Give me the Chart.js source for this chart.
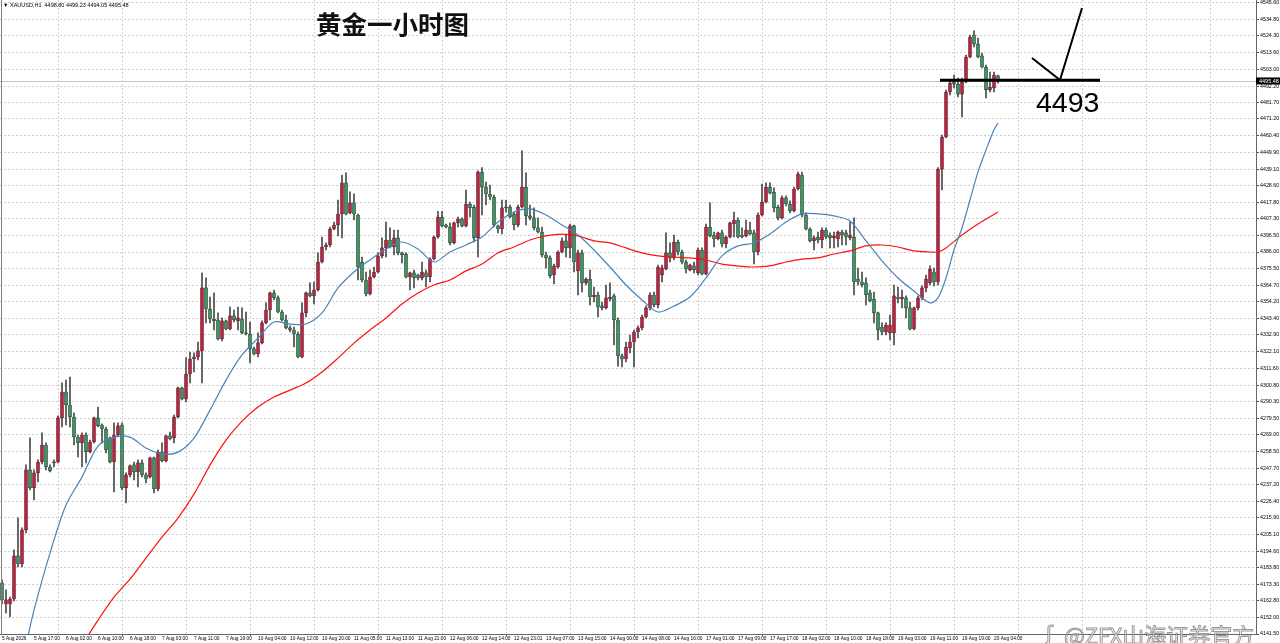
<!DOCTYPE html>
<html><head><meta charset="utf-8">
<script src="https://cdn.jsdelivr.net/npm/chart.js@4.4.1/dist/chart.umd.min.js"></script>
<style>html,body{margin:0;padding:0;background:#fff;overflow:hidden}canvas{display:block}</style>
</head><body>
<canvas id="c" width="1280" height="643"></canvas>
<script>
const symbolInfo = "\u25BC XAUUSD,H1  4498.80 4499.23 4494.05 4495.48";
const chartTitle = "黄金一小时图";
const markText = "4493";
const watermark = "@ZFX山海证券官方";
const lastPrice = 4495.48;
const markLevel = 4496;

const timeLabels = ["5 Aug 2026","5 Aug 17:00","6 Aug 02:00","6 Aug 10:00","6 Aug 18:00","7 Aug 03:00","7 Aug 11:00","7 Aug 19:00","10 Aug 04:00","10 Aug 12:00","10 Aug 20:00","11 Aug 05:00","11 Aug 13:00","11 Aug 21:00","12 Aug 06:00","12 Aug 14:00","12 Aug 23:01","13 Aug 07:00","13 Aug 15:00","14 Aug 00:00","14 Aug 08:00","14 Aug 16:00","17 Aug 01:00","17 Aug 09:00","17 Aug 17:00","18 Aug 02:00","18 Aug 10:00","18 Aug 18:00","19 Aug 03:00","19 Aug 11:00","19 Aug 19:00","20 Aug 04:00"];

const priceTicks = [4545.60,4534.80,4524.30,4513.60,4503.00,4492.20,4481.70,4471.20,4460.40,4449.90,4439.10,4428.60,4417.80,4407.30,4396.50,4386.00,4375.50,4364.70,4354.20,4343.40,4332.90,4322.10,4311.60,4300.80,4290.30,4279.50,4269.00,4258.50,4247.70,4237.20,4226.40,4215.90,4205.10,4194.60,4183.80,4173.30,4162.80,4152.00,4141.50];

const open = [4174.2,4160.7,4160.7,4163.9,4191.5,4186.3,4208.1,4246.5,4235.0,4244.6,4251.6,4262.5,4248.4,4251.0,4251.6,4279.8,4296.4,4288.1,4280.4,4267.6,
4263.8,4268.9,4258.0,4264.4,4279.8,4275.3,4272.7,4267.0,4251.6,4268.9,4275.3,4235.0,4243.3,4249.7,4245.2,4251.0,4243.3,4242.0,4254.2,4234.3,
4258.0,4252.3,4268.3,4267.0,4280.4,4299.0,4291.9,4307.9,4317.5,4318.8,4322.7,4363.0,4349.5,4343.1,4342.5,4330.3,4341.9,4336.7,4345.1,4341.9,
4343.1,4334.2,4333.5,4324.0,4320.7,4327.8,4340.6,4348.9,4359.8,4356.6,4347.6,4342.5,4337.4,4336.1,4333.5,4318.8,4347.0,4359.8,4357.9,4361.7,
4379.6,4389.2,4390.5,4400.7,4403.3,4410.3,4430.2,4411.0,4417.4,4409.7,4379.6,4368.1,4359.1,4370.0,4373.2,4383.5,4388.6,4393.7,4389.2,4395.0,
4385.4,4384.7,4370.0,4372.6,4371.3,4369.4,4372.6,4370.0,4381.5,4395.6,4408.3,4403.3,4402.0,4391.8,4404.6,4407.1,4402.7,4416.7,4414.8,4395.0,
4437.2,4427.5,4423.1,4421.2,4402.7,4400.7,4414.2,4414.8,4410.3,4403.3,4414.8,4427.5,4409.1,4407.8,4401.4,4398.8,4384.1,4382.2,4371.3,4376.4,
4386.0,4393.1,4388.6,4402.7,4373.9,4385.4,4366.2,4368.7,4357.2,4358.5,4351.5,4350.2,4355.9,4357.9,4342.5,4319.5,4317.5,4324.6,4328.4,4334.8,
4337.4,4344.4,4350.2,4358.5,4352.1,4371.3,4375.1,4385.4,4382.2,4392.4,4386.0,4379.6,4374.5,4377.1,4372.6,4387.3,4371.9,4402.0,4396.9,4394.3,
4398.2,4391.1,4395.6,4403.9,4406.5,4396.9,4396.3,4400.1,4398.2,4386.0,4409.7,4418.0,4427.5,4424.4,4414.8,4407.8,4420.6,4416.7,4412.3,4426.3,
4435.3,4409.7,4400.7,4393.1,4395.6,4393.7,4400.1,4396.9,4395.0,4394.3,4398.8,4398.2,4395.0,4395.6,4368.7,4366.8,4366.2,4359.8,4355.9,4347.0,
4338.0,4334.8,4334.2,4334.2,4357.2,4355.9,4356.6,4350.2,4336.7,4350.2,4356.6,4363.0,4366.2,4373.2,4366.8,4439.1,4459.6,4488.4,4494.8,4493.5,
4487.1,4494.8,4510.8,4524.9,4519.1,4511.5,4504.4,4489.7,4491.0,4498.80];

const high = [4176.1,4169.7,4165.2,4195.3,4215.8,4209.4,4249.7,4267.0,4246.5,4252.9,4270.2,4263.8,4249.7,4252.9,4281.1,4302.2,4304.1,4306.0,4283.0,4268.9,
4270.2,4270.2,4265.7,4280.4,4286.8,4276.0,4274.0,4267.6,4276.6,4276.6,4276.6,4244.6,4249.7,4251.6,4252.9,4252.9,4244.6,4254.8,4254.8,4259.3,
4263.8,4268.9,4270.8,4281.7,4299.6,4299.6,4318.2,4322.0,4321.4,4328.4,4372.6,4369.4,4357.2,4359.8,4347.0,4343.8,4342.5,4350.8,4348.9,4350.8,
4350.2,4347.6,4341.2,4325.2,4334.2,4341.9,4353.4,4360.4,4361.7,4357.9,4348.9,4345.7,4338.7,4338.0,4334.8,4353.4,4360.4,4366.2,4366.8,4385.4,
4395.6,4391.8,4402.0,4405.2,4419.3,4435.3,4436.6,4424.5,4423.2,4410.3,4382.8,4373.2,4374.5,4376.4,4385.4,4395.0,4405.2,4401.4,4400.1,4400.1,
4386.0,4385.4,4373.2,4374.5,4371.9,4379.6,4374.5,4382.2,4396.2,4412.1,4412.1,4403.9,4404.6,4405.2,4408.4,4407.8,4425.7,4418.0,4416.1,4437.9,
4440.1,4430.8,4428.9,4422.5,4403.3,4419.3,4419.3,4416.1,4411.6,4416.1,4450.7,4436.6,4416.1,4414.2,4407.8,4402.0,4386.0,4383.5,4378.3,4386.7,
4395.0,4396.9,4403.9,4403.3,4387.3,4387.3,4369.4,4374.5,4363.6,4360.4,4354.0,4364.9,4366.2,4359.1,4343.8,4320.7,4328.4,4332.9,4336.1,4338.7,
4345.7,4351.5,4359.8,4360.4,4377.7,4377.7,4398.2,4391.8,4396.9,4393.7,4387.3,4380.9,4378.3,4379.6,4388.6,4388.6,4403.9,4417.4,4398.8,4398.8,
4400.1,4396.3,4405.2,4411.6,4407.8,4401.4,4406.5,4405.2,4400.1,4411.0,4429.5,4430.2,4430.2,4427.0,4416.1,4421.9,4421.9,4418.7,4427.6,4437.2,
4437.2,4411.0,4401.4,4396.3,4398.8,4401.4,4401.4,4398.2,4398.8,4399.5,4400.1,4400.1,4405.2,4407.8,4375.7,4373.2,4369.4,4361.7,4360.4,4347.6,
4340.6,4340.6,4345.7,4364.9,4363.6,4361.7,4357.9,4354.0,4350.8,4357.9,4364.3,4371.3,4377.1,4375.7,4440.1,4460.9,4489.7,4496.1,4499.3,4497.4,
4497.4,4512.1,4524.9,4527.5,4523.0,4513.4,4505.7,4501.2,4501.2,4499.23];

const low = [4160.7,4155.0,4152.4,4162.7,4184.4,4184.4,4206.2,4233.7,4227.3,4238.8,4250.3,4246.5,4245.2,4248.4,4251.0,4274.0,4275.3,4274.0,4262.5,4254.8,
4248.4,4251.0,4257.4,4263.8,4274.0,4263.8,4257.4,4251.0,4232.4,4267.6,4233.7,4225.4,4242.0,4240.1,4235.6,4242.0,4238.2,4241.4,4231.8,4233.1,
4251.6,4251.6,4265.7,4263.8,4279.8,4291.3,4290.0,4302.2,4309.2,4316.9,4302.2,4340.6,4340.6,4336.1,4329.7,4329.1,4336.1,4336.1,4341.2,4336.1,
4333.5,4332.9,4315.0,4320.1,4318.8,4327.1,4339.9,4342.5,4355.3,4347.0,4341.9,4336.7,4334.8,4325.2,4318.2,4318.2,4344.4,4357.2,4352.7,4361.1,
4379.0,4387.3,4389.2,4400.1,4396.3,4395.0,4409.7,4410.3,4406.5,4368.1,4366.8,4357.9,4358.5,4369.4,4372.6,4382.2,4382.8,4388.6,4384.1,4384.1,
4379.0,4369.4,4361.7,4363.0,4368.1,4368.1,4363.6,4366.8,4380.9,4394.9,4402.0,4401.4,4390.5,4391.1,4402.0,4402.0,4402.0,4408.4,4392.4,4382.8,
4409.7,4416.1,4419.3,4402.0,4398.2,4397.5,4411.6,4407.8,4400.1,4402.0,4414.2,4403.3,4406.5,4400.1,4398.2,4382.8,4375.7,4369.4,4365.5,4375.7,
4385.4,4382.8,4382.2,4373.2,4358.5,4360.4,4364.9,4352.1,4354.0,4344.4,4348.9,4349.5,4354.7,4326.5,4312.9,4312.4,4315.6,4321.4,4312.4,4331.0,
4336.1,4343.8,4348.9,4350.8,4350.2,4366.8,4374.5,4379.6,4380.9,4384.1,4378.3,4372.6,4373.9,4372.6,4371.3,4371.3,4371.3,4395.6,4389.2,4393.7,
4389.2,4388.6,4395.0,4395.6,4395.0,4395.0,4395.6,4396.9,4378.3,4384.1,4409.1,4417.4,4423.1,4411.6,4406.5,4407.1,4415.5,4411.0,4411.6,4425.7,
4408.4,4400.1,4392.4,4387.3,4391.8,4388.6,4394.3,4388.6,4388.6,4389.2,4390.5,4390.5,4393.7,4358.5,4364.9,4363.6,4352.1,4354.0,4340.6,4329.7,
4332.9,4332.9,4329.7,4326.5,4353.4,4350.2,4343.8,4336.1,4336.1,4348.9,4355.3,4360.4,4364.9,4364.3,4364.9,4425.7,4459.0,4486.5,4491.0,4485.2,
4472.4,4494.2,4510.2,4517.2,4510.2,4503.8,4484.6,4488.4,4488.4,4494.05];

const close = [4163.3,4163.3,4163.9,4191.5,4186.3,4208.1,4246.5,4235.0,4244.6,4251.6,4262.5,4248.4,4245.9,4251.6,4279.8,4296.4,4288.1,4280.4,4267.6,4263.8,
4268.9,4258.0,4264.4,4279.8,4274.7,4272.7,4259.3,4251.6,4268.9,4274.7,4235.0,4243.3,4249.1,4245.2,4251.0,4243.3,4240.7,4254.2,4234.3,4258.0,
4252.3,4268.3,4266.3,4280.4,4299.0,4291.9,4307.9,4317.5,4318.8,4322.7,4363.0,4349.5,4343.1,4341.9,4330.3,4341.9,4336.7,4345.1,4342.5,4343.8,
4334.2,4333.5,4324.0,4320.7,4327.8,4340.6,4348.9,4359.8,4356.6,4347.6,4342.5,4337.4,4336.1,4333.5,4318.8,4347.0,4359.8,4357.9,4361.7,4379.6,
4389.2,4390.5,4400.7,4403.3,4410.3,4430.2,4410.3,4417.4,4410.3,4376.4,4368.1,4359.1,4370.0,4373.2,4383.5,4388.6,4393.7,4389.2,4395.0,4385.4,
4384.1,4370.0,4372.6,4369.4,4369.4,4373.2,4370.0,4381.5,4395.6,4408.3,4402.7,4402.0,4391.8,4404.6,4407.1,4402.7,4416.7,4414.2,4395.0,4437.2,
4427.5,4423.1,4421.2,4403.3,4400.7,4414.2,4414.8,4408.4,4403.3,4414.8,4427.5,4409.1,4407.8,4401.4,4398.8,4384.1,4382.2,4370.7,4377.1,4386.0,
4393.1,4388.6,4402.7,4379.6,4385.4,4366.2,4368.7,4357.2,4358.5,4350.8,4350.2,4356.6,4357.2,4342.5,4319.5,4317.5,4325.2,4328.4,4334.8,4337.4,
4344.4,4350.2,4358.5,4352.1,4376.4,4375.8,4385.4,4382.2,4392.4,4386.0,4379.6,4375.1,4377.7,4374.5,4387.3,4371.9,4402.0,4396.3,4394.3,4398.2,
4391.1,4395.6,4404.6,4406.5,4395.6,4395.6,4400.1,4397.5,4386.0,4409.7,4418.0,4427.5,4423.7,4414.2,4407.8,4420.6,4416.7,4412.3,4426.3,4435.9,
4409.7,4400.7,4393.1,4395.0,4393.7,4400.1,4395.6,4395.0,4396.3,4398.8,4396.9,4395.6,4396.9,4366.8,4366.8,4364.9,4358.5,4354.7,4347.0,4336.1,
4334.8,4339.3,4339.3,4357.9,4355.9,4357.2,4350.2,4336.7,4350.2,4356.6,4363.0,4368.7,4375.1,4366.8,4439.1,4459.6,4488.4,4494.2,4493.5,4487.1,
4494.8,4510.8,4523.6,4519.1,4510.8,4504.4,4489.7,4491.6,4499.3,4495.48];

// moving averages (bar index, value)
const maFastIdx = [6,8,12,16,20,24,28,32,36,40,44,48,52,56,60,64,68,72,76,80,84,88,92,96,100,104,108,112,116,120,124,128,132,136,140,144,148,152,156,160,164,168,172,176,180,184,188,192,196,200,204,208,212,216,220,224,228,232,234,236,238,240,242,244,246,248,249];
const maFastVal = [4134.3,4156.8,4193.3,4224.0,4241.9,4261.8,4267.5,4267.5,4260.5,4256.7,4257.9,4266.9,4284.8,4304.0,4320.1,4330.9,4341.2,4339.9,4339.9,4347.0,4363.0,4373.2,4380.9,4387.9,4392.4,4387.9,4379.6,4386.0,4390.5,4395.6,4405.2,4411.6,4413.6,4409.7,4403.3,4396.9,4387.3,4376.4,4364.9,4355.3,4347.6,4351.4,4357.2,4369.4,4383.5,4389.9,4391.8,4397.5,4405.2,4410.4,4410.4,4409.1,4405.9,4393.1,4380.3,4369.4,4361.0,4353.4,4356.6,4369.4,4387.3,4401.4,4419.3,4437.3,4451.3,4464.2,4468.6];
const maSlowIdx = [20,24,28,32,36,40,44,48,52,56,60,64,68,72,76,80,84,88,92,96,100,104,108,112,116,120,124,128,132,136,140,144,148,152,156,160,164,168,172,176,180,184,188,192,196,200,204,208,212,216,220,224,228,232,234,236,240,244,249];
const maSlowVal = [4134.3,4150.4,4165.1,4176.6,4190.1,4203.5,4215.7,4231.0,4249.6,4265.6,4277.8,4286.8,4293.2,4297.6,4302.1,4309.2,4318.1,4327.7,4336.1,4343.8,4352.7,4359.8,4364.9,4368.1,4373.9,4378.3,4385.4,4389.2,4393.7,4396.3,4397.5,4396.3,4393.1,4391.8,4388.6,4385.4,4383.5,4382.8,4382.2,4380.9,4378.3,4377.1,4376.4,4377.1,4379.6,4381.5,4382.2,4384.7,4386.7,4389.9,4390.5,4389.2,4386.7,4386.0,4386.0,4388.6,4396.9,4404.0,4411.6];

const SLOTS = 314;
const N = open.length;
const labels = Array.from({length: SLOTS}, (_, i) => i);
const bodies = open.map((o, i) => [Math.min(o, close[i]), Math.max(o, close[i])]);
const wicks = low.map((l, i) => [l, high[i]]);
const UP = '#d9163c', DOWN = '#2f9e5c';
const bodyColors = open.map((o, i) => close[i] >= o ? UP : DOWN);
const maFast = new Array(N).fill(null);
maFastIdx.forEach((ix, k) => { maFast[ix] = maFastVal[k]; });
const maSlow = new Array(N).fill(null);
maSlowIdx.forEach((ix, k) => { maSlow[ix] = maSlowVal[k]; });

const overlay = {
  id: 'overlay',
  beforeDatasetsDraw(chart) {
    const {ctx, chartArea: a, scales: {y}} = chart;
    const py = Math.round(y.getPixelForValue(lastPrice)) + 0.5;
    ctx.save();
    ctx.strokeStyle = '#c4c4c4'; ctx.lineWidth = 1;
    ctx.beginPath(); ctx.moveTo(a.left, py); ctx.lineTo(a.right, py); ctx.stroke();
    ctx.restore();
  },
  afterDraw(chart) {
    const {ctx, chartArea: a, scales: {x, y}} = chart;
    ctx.save();
    // left frame line
    ctx.strokeStyle = '#808080'; ctx.lineWidth = 1;
    ctx.beginPath(); ctx.moveTo(1.5, a.top); ctx.lineTo(1.5, a.bottom); ctx.stroke();
    // header
    ctx.fillStyle = '#000'; ctx.font = '5.5px "Liberation Sans", Arial, sans-serif';
    ctx.textBaseline = 'top'; ctx.textAlign = 'left';
    ctx.fillText(symbolInfo, 3, 3);
    // current price label
    const py = y.getPixelForValue(lastPrice);
    ctx.fillStyle = '#000';
    ctx.fillRect(a.right, py - 3.5, 1280 - a.right, 7);
    ctx.fillStyle = '#fff'; ctx.textBaseline = 'middle';
    ctx.fillText(lastPrice.toFixed(2), a.right + 3, py + 0.3);
    // title
    ctx.fillStyle = '#111';
    ctx.font = 'bold 25.5px "Noto Sans CJK SC", sans-serif';
    ctx.textAlign = 'left'; ctx.textBaseline = 'middle';
    ctx.fillText(chartTitle, 316, 24);
    // hand-drawn level line
    const ly = y.getPixelForValue(markLevel);
    ctx.strokeStyle = '#000'; ctx.lineWidth = 3; ctx.lineCap = 'butt';
    ctx.beginPath(); ctx.moveTo(x.getPixelForValue(234.5), ly); ctx.lineTo(x.getPixelForValue(274.5), ly); ctx.stroke();
    // check mark
    ctx.lineWidth = 2; ctx.lineJoin = 'miter';
    ctx.beginPath();
    ctx.moveTo(x.getPixelForValue(257.5), y.getPixelForValue(4510.2));
    ctx.lineTo(x.getPixelForValue(264.5), y.getPixelForValue(4496.1));
    ctx.lineTo(x.getPixelForValue(270), y.getPixelForValue(4542.2));
    ctx.stroke();
    // level text
    ctx.fillStyle = '#000';
    ctx.font = '28.5px "Liberation Sans", Arial, sans-serif';
    ctx.textBaseline = 'alphabetic'; ctx.textAlign = 'left';
    ctx.fillText(markText, x.getPixelForValue(258.5), y.getPixelForValue(4475.6));
    // watermark
    ctx.font = '22px "Noto Sans CJK SC", sans-serif';
    ctx.textBaseline = 'middle';
    ctx.lineWidth = 1;
    ctx.strokeStyle = 'rgba(110,110,110,0.7)';
    ctx.fillStyle = 'rgba(255,255,255,0.55)';
    ctx.fillText(watermark, 1064, 636);
    ctx.strokeText(watermark, 1064, 636);
    ctx.font = '20px "DejaVu Sans", sans-serif';
    ctx.fillText('\u0283', 1046, 635);
    ctx.strokeText('\u0283', 1046, 635);
    ctx.restore();
  }
};

new Chart(document.getElementById('c'), {
  type: 'bar',
  data: {
    labels: labels,
    datasets: [
      { type: 'line', data: maFast, borderColor: '#4a84b8', borderWidth: 1.2, pointRadius: 0, spanGaps: true, tension: 0.3, order: 1 },
      { type: 'line', data: maSlow, borderColor: '#ff1010', borderWidth: 1.2, pointRadius: 0, spanGaps: true, tension: 0.3, order: 1 },
      { type: 'bar', data: bodies, backgroundColor: bodyColors, borderColor: '#2a2a2a', borderWidth: 0.7, borderSkipped: false, barThickness: 3, grouped: false, minBarLength: 1, order: 2 },
      { type: 'bar', data: wicks, backgroundColor: '#4a4a4a', barThickness: 1, grouped: false, order: 3 }
    ]
  },
  options: {
    responsive: false, maintainAspectRatio: false, animation: false, events: [],
    devicePixelRatio: 1,
    layout: { padding: 0 },
    plugins: { legend: { display: false }, tooltip: { enabled: false } },
    scales: {
      x: {
        type: 'category', offset: true,
        grid: {
          offset: true, drawOnChartArea: true, tickLength: 2,
          color: c => (c.index % 4 === 0 ? '#cfcfcf' : 'rgba(0,0,0,0)'),
          tickColor: c => (c.index % 8 === 0 ? '#555' : 'rgba(0,0,0,0)'),
          lineWidth: 1
        },
        border: { display: true, color: '#666', dash: [2, 2] },
        ticks: {
          autoSkip: false, maxRotation: 0, minRotation: 0, align: 'start', padding: 0,
          color: '#000', font: { family: '"Liberation Sans", Arial, sans-serif', size: 4.8 },
          callback: (v, i) => (i % 8 === 0 && timeLabels[i / 8] !== undefined) ? timeLabels[i / 8] : (i % 4 === 0 ? '' : null)
        },
        afterFit: s => { s.height = 9; s.paddingLeft = 0; s.paddingRight = 0; }
      },
      y: {
        type: 'linear', position: 'right', min: 4141.5, max: 4547.3,
        afterBuildTicks: s => { s.ticks = priceTicks.map(v => ({ value: v })); },
        grid: { color: '#cfcfcf', tickLength: 3, tickColor: '#555', lineWidth: 1 },
        border: { display: true, color: '#666', dash: [2, 2] },
        ticks: {
          padding: 1, color: '#000',
          font: { family: '"Liberation Sans", Arial, sans-serif', size: 5.3 },
          callback: v => Number(v).toFixed(2)
        },
        afterFit: s => { s.width = 24; s.paddingTop = 0; s.paddingBottom = 0; }
      }
    }
  },
  plugins: [overlay]
});
</script>
</body></html>
